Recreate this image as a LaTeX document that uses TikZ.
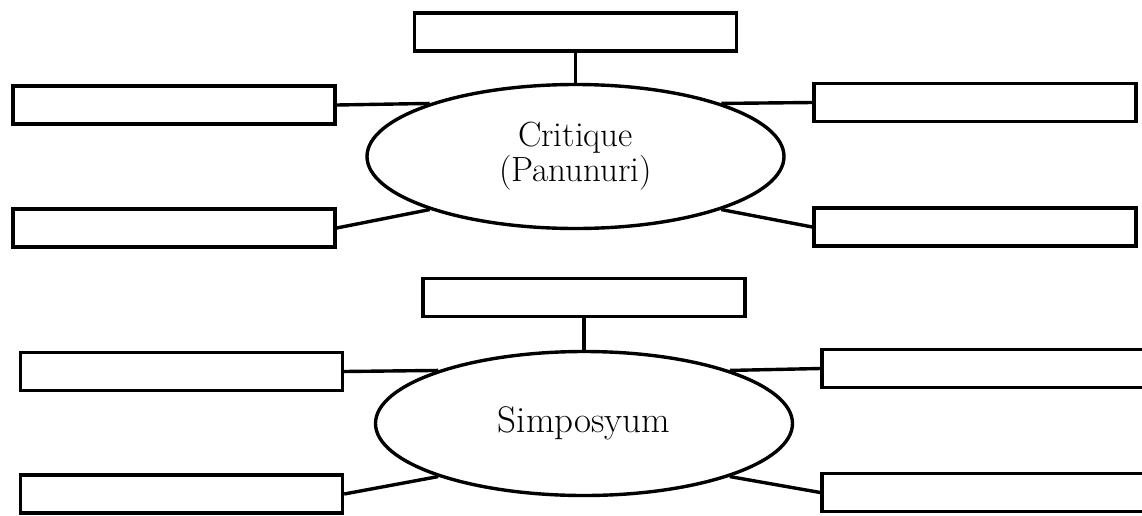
\documentclass[tikz,border=0pt]{standalone}
\usepackage{tikz}
\usetikzlibrary{shapes.geometric}

\begin{document}
\begin{tikzpicture}[x=0.5pt,y=-0.5pt,line width=1.7pt,
    kotak/.style={draw,rectangle,inner sep=0pt,minimum width=161pt,minimum height=19pt},
    bilog/.style={draw,ellipse,inner sep=0pt,minimum width=208.5pt,minimum height=72pt,%
      align=center,font=\fontsize{17.5}{17.5}\selectfont}]

      % バウンディングボックス
      \useasboundingbox (0,0) rectangle (1142,515);
      \clip (0,0) rectangle (1142,515);

      % 上の図: Critique
      \node[bilog] (crit) at (575.5,156.5){Critique\\(Panunuri)};
      \node[kotak] (critT) at (575.5,32){};
      \node[kotak] (critLA) at (174,105){};
      \node[kotak] (critLB) at (174,228){};
      \node[kotak] (critRA) at (975,102.5){};
      \node[kotak] (critRB) at (975,227){};

      \draw (critT.south) -- (crit.north);
      \draw (critLA.east) -- (crit.160);
      \draw (critLB.east) -- (crit.200);
      \draw (critRA.west) -- (crit.20);
      \draw (critRB.west) -- (crit.340);

      % 下の図: Simposyum
      \node[bilog,font=\fontsize{18.5}{18.5}\selectfont] (simp) at (584,423.5){Simposyum};
      \node[kotak] (simpT) at (584,297.5){};
      \node[kotak] (simpLA) at (181.5,371.5){};
      \node[kotak] (simpLB) at (181.5,494){};
      \node[kotak] (simpRA) at (983,368.5){};
      \node[kotak] (simpRB) at (983,492.5){};

      \draw (simpT.south) -- (simp.north);
      \draw (simpLA.east) -- (simp.160);
      \draw (simpLB.east) -- (simp.200);
      \draw (simpRA.west) -- (simp.20);
      \draw (simpRB.west) -- (simp.340);
    \end{tikzpicture}
\end{document}
